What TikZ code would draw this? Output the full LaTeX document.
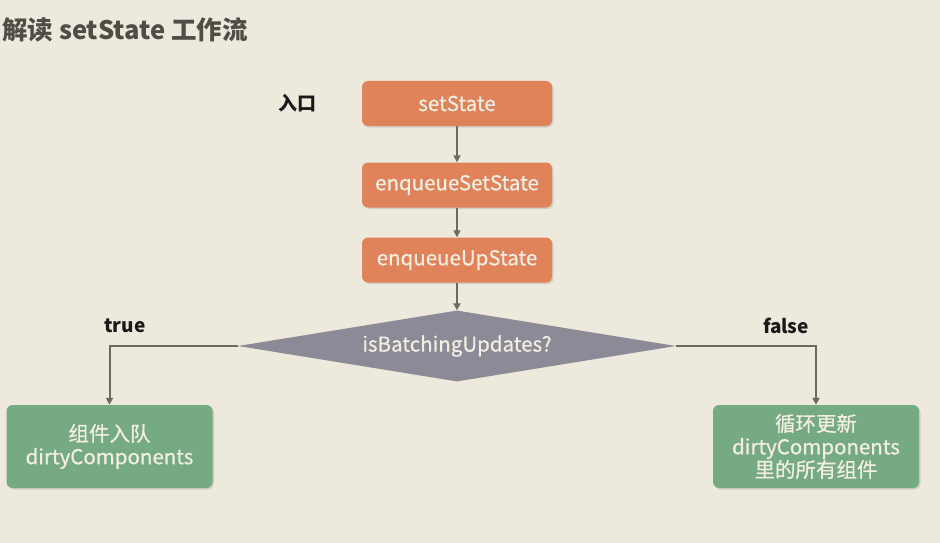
\documentclass[tikz,border=0pt]{standalone}
\usepackage{fontspec}
\setmainfont{Noto Sans CJK SC}
\newfontfamily\boxfont{Noto Sans CJK SC}[FakeBold=0.7]
\usetikzlibrary{shapes.geometric,arrows.meta,shadows}
\definecolor{bg}{HTML}{EDE9DC}
\definecolor{orangebox}{HTML}{E0825A}
\definecolor{greenbox}{HTML}{75AA82}
\definecolor{graybox}{HTML}{8C8A96}
\definecolor{linecol}{HTML}{6B6A62}
\definecolor{boxtext}{HTML}{F2EEE2}
\definecolor{titlecol}{HTML}{514D46}
\tikzset{
    every node/.style={font=\boxfont\fontsize{20.5}{23}\selectfont}
}
\tikzset{
    stepbox/.style={rectangle, rounded corners=6pt, fill=orangebox,
    	text=boxtext, minimum width=190pt, minimum height=45pt,
    	drop shadow={opacity=.25, shadow xshift=1.5pt, shadow yshift=-1.5pt}},
    endbox/.style={stepbox, fill=greenbox, minimum width=206pt,
    	minimum height=83pt, align=center},
    cond/.style={diamond, fill=graybox, text=boxtext, inner sep=0pt,
    	minimum width=438pt, minimum height=71pt, aspect=6},
    label/.style={font=\bfseries\fontsize{19}{23}\selectfont, text=black!90},
    arr/.style={draw=linecol, line width=2pt,
    	-{Triangle[length=7pt,width=7pt]}}
}

\begin{document}
\begin{tikzpicture}[x=1pt,y=-1pt]
	\fill[bg] (0,0) rectangle (940,543);
	\useasboundingbox (0,0) rectangle (940,543);
	\node (0) [anchor=west, inner sep=0pt, text=titlecol, font=\bfseries\fontsize{25.5}{28}\selectfont] at (2,30) {解读 setState 工作流};
	\node (1) [stepbox] at (457,103.5) {setState};
	\node (2) [stepbox] at (457,185) {enqueueSetState};
	\node (3) [stepbox] at (457,260) {enqueueUpState};
	\node (4) [cond] at (457,346) {isBatchingUpdates?};
	\node (5) [endbox] at (109.5,446.5) {组件入队\\dirtyComponents};
	\node (6) [endbox] at (816,446.5) {循环更新\\dirtyComponents\\里的所有组件};
	\node (7) [label] at (297,103) {入口};
	\node (8) [label] at (125,326) {true};
	\node (9) [label] at (786,326) {false};

	\draw[arr] (1) -- (2); \draw[arr] (2) -- (3);
	\draw[arr] (3) -- (4);
	\draw[arr] (4.west) -| (5.north);
	\draw[arr] (4.east) -| (6.north);
\end{tikzpicture}
\end{document}
